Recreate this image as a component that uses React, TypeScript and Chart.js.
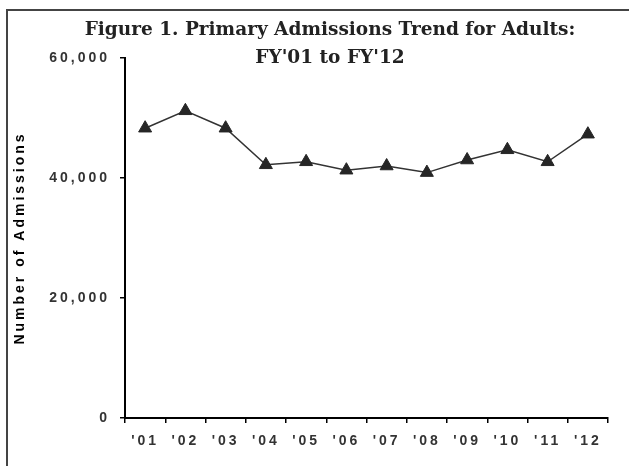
import React, { useEffect, useRef } from "react";
import { Chart, registerables } from "chart.js";

Chart.register(...registerables);

const categories = ["'01", "'02", "'03", "'04", "'05", "'06", "'07", "'08", "'09", "'10", "'11", "'12"];
const admissions = [48300, 51200, 48300, 42200, 42700, 41300, 42000, 40900, 43000, 44700, 42700, 47300];
const yTicks = [0, 20000, 40000, 60000];
const titleLines = ["Figure 1. Primary Admissions Trend for Adults:", "FY'01 to FY'12"];
const yAxisTitle = "Number of Admissions";

const W = 629;
const H = 466;

const framePlugin = {
  id: "frameAndTitle",
  beforeDraw(chart: any) {
    const ctx = chart.ctx;
    ctx.save();
    ctx.fillStyle = "#ffffff";
    ctx.fillRect(0, 0, W, H);
    ctx.strokeStyle = "#444444";
    ctx.lineWidth = 2;
    ctx.beginPath();
    ctx.moveTo(7, H + 5);
    ctx.lineTo(7, 10);
    ctx.lineTo(W + 5, 10);
    ctx.stroke();
    ctx.restore();
    (ctx as any).letterSpacing = "3px";
  },
  afterDraw(chart: any) {
    const ctx = chart.ctx;
    ctx.save();
    (ctx as any).letterSpacing = "0px";
    ctx.fillStyle = "#222222";
    ctx.font = "bold 18.5px 'DejaVu Serif'";
    ctx.textAlign = "center";
    ctx.textBaseline = "middle";
    ctx.fillText(titleLines[0], 330, 30);
    ctx.fillText(titleLines[1], 330, 58);
    ctx.restore();
  },
};

export default function App() {
  const ref = useRef<HTMLCanvasElement | null>(null);
  useEffect(() => {
    if (!ref.current) return;
    const chart = new Chart(ref.current, {
      type: "line",
      data: {
        labels: categories,
        datasets: [
          {
            data: admissions,
            borderColor: "#333333",
            borderWidth: 1.5,
            backgroundColor: "#262626",
            pointBackgroundColor: "#262626",
            pointBorderColor: "#262626",
            pointBorderWidth: 1,
            pointStyle: "triangle",
            pointRadius: 7.5,
            tension: 0,
          },
        ],
      },
      options: {
        responsive: false,
        animation: false,
        devicePixelRatio: 1,
        layout: { padding: { top: 58, right: 21, bottom: 0, left: 0 } },
        plugins: {
          legend: { display: false },
          tooltip: { enabled: false },
          title: { display: false },
        },
        scales: {
          x: {
            offset: true,
            grid: {
              offset: true,
              drawOnChartArea: false,
              drawTicks: true,
              tickLength: 5,
              color: "#000000",
              lineWidth: 1.5,
            },
            border: { display: true, color: "#000000", width: 2 },
            ticks: {
              color: "#333333",
              font: { family: "'Liberation Sans'", weight: "bold", size: 14 },
              padding: 10,
              maxRotation: 0,
              autoSkip: false,
            },
            afterFit(scale: any) {
              scale.height = 48;
            },
          },
          y: {
            min: 0,
            max: 60000,
            afterBuildTicks(scale: any) {
              scale.ticks = yTicks.map((v) => ({ value: v }));
            },
            grid: {
              drawOnChartArea: false,
              drawTicks: true,
              tickLength: 5,
              color: "#000000",
              lineWidth: 1.5,
            },
            border: { display: true, color: "#000000", width: 2 },
            ticks: {
              color: "#333333",
              font: { family: "'Liberation Sans'", weight: "bold", size: 14 },
              padding: 10,
              callback: (v: any) => Number(v).toLocaleString("en-US"),
            },
            title: {
              display: true,
              text: yAxisTitle,
              color: "#000000",
              font: { family: "'Liberation Sans'", weight: "bold", size: 14 },
              padding: { top: 12, bottom: 0 },
            },
            afterFit(scale: any) {
              scale.width = 125;
            },
          },
        },
      },
      plugins: [framePlugin],
    });
    return () => chart.destroy();
  }, []);
  return (
    <div style={{ position: "fixed", left: 0, top: 0, width: W, height: H, overflow: "hidden", background: "#fff" }}>
      <canvas ref={ref} width={W} height={H} style={{ display: "block", width: W, height: H }} />
    </div>
  );
}
